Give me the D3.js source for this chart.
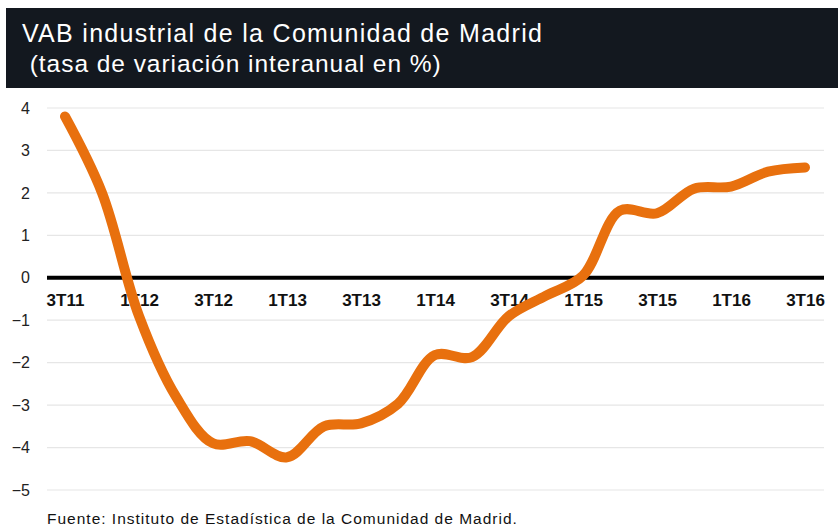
<!DOCTYPE html>
<html><head><meta charset="utf-8">
<script src="https://cdn.jsdelivr.net/npm/d3@7"></script>
<style>body{margin:0;background:#fff}svg{display:block}text{font-family:"Liberation Sans",Arial,Helvetica,sans-serif}</style>
</head><body>
<script>
const quarters = ["3T11","4T11","1T12","2T12","3T12","4T12","1T13","2T13","3T13","4T13","1T14","2T14","3T14","4T14","1T15","2T15","3T15","4T15","1T16","2T16","3T16"];
const values = [3.8, 2.0, -0.9, -2.8, -3.9, -3.85, -4.23, -3.5, -3.43, -2.97, -1.82, -1.87, -0.9, -0.42, 0.05, 1.58, 1.52, 2.1, 2.15, 2.5, 2.6];
const tickLabels = ["3T11","1T12","3T12","1T13","3T13","1T14","3T14","1T15","3T15","1T16","3T16"];
const yTicks = [4,3,2,1,0,-1,-2,-3,-4,-5];
const title = "VAB industrial de la Comunidad de Madrid";
const subtitle = " (tasa de variación interanual en %)";
const source = "Fuente: Instituto de Estadística de la Comunidad de Madrid.";

const W = 838, H = 531;
const svg = d3.select("body").append("svg").attr("width", W).attr("height", H);

svg.append("rect").attr("x",6).attr("y",8).attr("width",W-6).attr("height",80).attr("fill","#13181f");
svg.append("text").attr("x",22).attr("y",42).attr("fill","#fff").attr("font-size",25).attr("letter-spacing",1.3).text(title);
svg.append("text").attr("x",22).attr("y",72).attr("fill","#fff").attr("font-size",24.5).attr("letter-spacing",0.95).attr("xml:space","preserve").text(subtitle);

const x = d3.scalePoint().domain(quarters).range([65, 805]);
const y = d3.scaleLinear().domain([-5, 4]).range([490, 108]);

const grid = svg.append("g");
grid.selectAll("line").data(yTicks.filter(d=>d!==0)).join("line")
  .attr("x1",47).attr("x2",824).attr("y1",d=>y(d)).attr("y2",d=>y(d))
  .attr("stroke","#e6e6e6").attr("stroke-width",1.2);

const yAxis = svg.append("g").attr("transform","translate(47,0)")
  .call(d3.axisLeft(y).tickValues(yTicks).tickSize(0).tickPadding(17).tickFormat(d3.format("d")));
yAxis.select(".domain").remove();
yAxis.selectAll("text").attr("font-size",16).attr("fill","#222").style("font-family","'Liberation Sans',Arial,sans-serif");

svg.append("line").attr("x1",47).attr("x2",824).attr("y1",y(0)).attr("y2",y(0)).attr("stroke","#000").attr("stroke-width",4);

const xAxis = svg.append("g").attr("transform",`translate(0,${y(0)})`)
  .call(d3.axisBottom(x).tickValues(tickLabels).tickSize(0).tickPadding(16));
xAxis.select(".domain").remove();
xAxis.selectAll("text").attr("font-size",17).attr("font-weight","bold").attr("fill","#111").style("font-family","'Liberation Sans',Arial,sans-serif");

const line = d3.line().x((d,i)=>x(quarters[i])).y(d=>y(d)).curve(d3.curveCatmullRom.alpha(0.5));
svg.append("path").datum(values).attr("d",line).attr("fill","none")
  .attr("stroke","#e8700e").attr("stroke-width",10).attr("stroke-linecap","round").attr("stroke-linejoin","round");

svg.append("text").attr("x",47).attr("y",524).attr("font-size",15.5).attr("letter-spacing",1.0).attr("fill","#111").text(source);
</script>
</body></html>
